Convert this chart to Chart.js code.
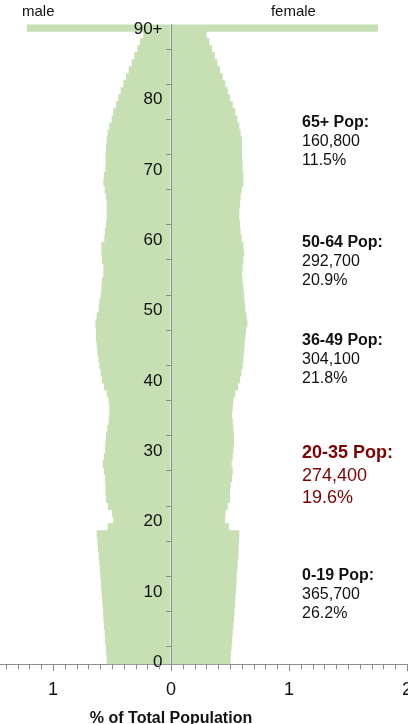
<!DOCTYPE html>
<html>
<head>
<meta charset="utf-8">
<script src="https://cdn.jsdelivr.net/npm/chart.js@4.4.1/dist/chart.umd.min.js"></script>
<style>
  html, body { margin: 0; padding: 0; background: #fff; overflow: hidden; }
  #wrap { position: relative; width: 408px; height: 724px; }
</style>
</head>
<body>
<div id="wrap"><canvas id="pyramid" width="408" height="724"></canvas></div>
<script>
// single years of age, the last one is "90+"
const ages = [
  0, 1, 2, 3, 4, 5, 6, 7, 8, 9,
  10, 11, 12, 13, 14, 15, 16, 17, 18, 19,
  20, 21, 22, 23, 24, 25, 26, 27, 28, 29,
  30, 31, 32, 33, 34, 35, 36, 37, 38, 39,
  40, 41, 42, 43, 44, 45, 46, 47, 48, 49,
  50, 51, 52, 53, 54, 55, 56, 57, 58, 59,
  60, 61, 62, 63, 64, 65, 66, 67, 68, 69,
  70, 71, 72, 73, 74, 75, 76, 77, 78, 79,
  80, 81, 82, 83, 84, 85, 86, 87, 88, 89,
  90
];

// % of total population by single year of age
const malePct = [
  0.545, 0.548, 0.553, 0.559, 0.562, 0.568, 0.573, 0.576, 0.580, 0.585,
  0.590, 0.593, 0.599, 0.602, 0.607, 0.613, 0.619, 0.624, 0.630, 0.537,
  0.489, 0.500, 0.535, 0.550, 0.556, 0.556, 0.559, 0.568, 0.579, 0.568,
  0.559, 0.556, 0.551, 0.540, 0.528, 0.523, 0.523, 0.528, 0.545, 0.568,
  0.585, 0.596, 0.607, 0.616, 0.624, 0.630, 0.636, 0.636, 0.641, 0.630,
  0.613, 0.607, 0.596, 0.590, 0.585, 0.573, 0.573, 0.585, 0.590, 0.590,
  0.565, 0.560, 0.551, 0.545, 0.545, 0.545, 0.551, 0.562, 0.573, 0.568,
  0.556, 0.554, 0.554, 0.551, 0.545, 0.537, 0.523, 0.503, 0.489, 0.466,
  0.446, 0.427, 0.404, 0.381, 0.359, 0.333, 0.311, 0.285, 0.263, 0.235,
  1.220
];

const femalePct = [
  0.506, 0.508, 0.514, 0.519, 0.523, 0.528, 0.534, 0.537, 0.542, 0.545,
  0.551, 0.554, 0.556, 0.562, 0.565, 0.571, 0.573, 0.576, 0.579, 0.490,
  0.458, 0.462, 0.480, 0.500, 0.500, 0.506, 0.517, 0.523, 0.514, 0.523,
  0.528, 0.534, 0.534, 0.528, 0.523, 0.517, 0.523, 0.528, 0.545, 0.568,
  0.585, 0.596, 0.607, 0.613, 0.619, 0.624, 0.630, 0.636, 0.647, 0.641,
  0.630, 0.624, 0.619, 0.613, 0.607, 0.602, 0.607, 0.613, 0.619, 0.613,
  0.599, 0.590, 0.585, 0.579, 0.579, 0.585, 0.590, 0.599, 0.613, 0.613,
  0.607, 0.605, 0.602, 0.602, 0.602, 0.590, 0.579, 0.562, 0.545, 0.523,
  0.500, 0.480, 0.460, 0.438, 0.415, 0.393, 0.370, 0.347, 0.325, 0.302,
  1.754
];

// age group summaries shown at the right
const groupNames = ['65+ Pop:', '50-64 Pop:', '36-49 Pop:', '20-35 Pop:', '0-19 Pop:'];
const groupPops  = ['160,800', '292,700', '304,100', '274,400', '365,700'];
const groupPcts  = ['11.5%', '20.9%', '21.8%', '19.6%', '26.2%'];

const FONT      = "'Liberation Sans', Arial, sans-serif";
const BAR_GREEN = '#c6e0b4';
const AXIS_GREY = '#8c8c8c';
const TEXT      = '#111111';
const DARK_RED  = '#800000';

// where the summaries sit (age for the first line) and which one is highlighted
const groupAnchorAge = [77.1, 60.0, 46.0, 30.0, 12.6];
const highlightGroup = 3;

const isWhole = v => Math.abs(v - Math.round(v)) < 1e-6;
// an axis placed at x=0 ignores ticks.padding, so an en space keeps labels off the ticks
const GAP = '\u2002';

const textPlugin = {
  id: 'pyramidText',
  afterDraw(chart) {
    const ctx = chart.ctx;
    const xs  = chart.scales.x;
    const ys  = chart.scales.y;

    // x axis tick marks: long at whole percents, short at tenths
    ctx.save();
    ctx.strokeStyle = AXIS_GREY;
    ctx.lineWidth = 1;
    xs.ticks.forEach(t => {
      const px  = Math.round(xs.getPixelForValue(t.value)) + 0.5;
      const len = isWhole(t.value) ? 7 : 5;
      ctx.beginPath();
      ctx.moveTo(px, xs.top);
      ctx.lineTo(px, xs.top + len);
      ctx.stroke();
    });
    ctx.restore();

    ctx.save();
    ctx.textBaseline = 'middle';

    // side labels
    ctx.fillStyle = TEXT;
    ctx.font = `15px ${FONT}`;
    ctx.textAlign = 'center';
    ctx.fillText('male',   xs.getPixelForValue(-1.125), 11.5);
    ctx.fillText('female', xs.getPixelForValue(1.037),  11.5);

    // axis title, centred under zero
    ctx.font = `bold 16px ${FONT}`;
    ctx.fillText('% of Total Population', xs.getPixelForValue(0), 718.5);

    // group summaries
    ctx.textAlign = 'left';
    const gx = xs.getPixelForValue(1.11);
    groupNames.forEach((name, i) => {
      const hi   = i === highlightGroup;
      const size = hi ? 18 : 16;
      const gap  = hi ? 22.5 : 19;
      const y0   = ys.getPixelForValue(groupAnchorAge[i]);
      ctx.fillStyle = hi ? DARK_RED : TEXT;
      ctx.font = `bold ${size}px ${FONT}`;
      ctx.fillText(name, gx, y0);
      ctx.font = `${size}px ${FONT}`;
      ctx.fillText(groupPops[i], gx, y0 + gap);
      ctx.fillText(groupPcts[i], gx, y0 + gap * 2);
    });
    ctx.restore();
  }
};

const barOpts = {
  backgroundColor: BAR_GREEN,
  borderWidth: 0,
  grouped: false,
  barPercentage: 1.12,
  categoryPercentage: 1
};

new Chart(document.getElementById('pyramid'), {
  type: 'bar',
  data: {
    datasets: [
      Object.assign({ label: 'male',   data: ages.map((a, i) => ({ x: -malePct[i], y: a + 0.5 })) }, barOpts),
      Object.assign({ label: 'female', data: ages.map((a, i) => ({ x: femalePct[i], y: a + 0.5 })) }, barOpts)
    ]
  },
  options: {
    indexAxis: 'y',
    responsive: false,
    animation: false,
    layout: { padding: { top: 24.4, left: 0, right: 0, bottom: 0 } },
    plugins: {
      legend: { display: false },
      tooltip: { enabled: false }
    },
    scales: {
      x: {
        type: 'linear',
        min: -1.449,
        max: 2.008,
        offset: false,
        ticks: {
          stepSize: 0.1,
          includeBounds: false,
          autoSkip: false,
          maxTicksLimit: 100,
          maxRotation: 0,
          padding: 15,
          color: TEXT,
          font: { size: 18, family: FONT },
          callback: v => isWhole(v) ? String(Math.abs(Math.round(v))) : ''
        },
        grid: { drawOnChartArea: false, drawTicks: false },
        border: { color: AXIS_GREY },
        afterFit: s => { s.height = 59.7; s.paddingLeft = 0; s.paddingRight = 0; }
      },
      y: {
        type: 'linear',
        min: 0,
        max: 91,
        offset: false,
        position: { x: 0 },
        ticks: {
          z: 2,
          stepSize: 5,
          includeBounds: false,
          autoSkip: false,
          labelOffset: -2,
          color: TEXT,
          font: { size: 17, family: FONT },
          callback: v => v === 90 ? '90+' + GAP : (v % 10 === 0 ? v + GAP : '')
        },
        grid: { z: 1, drawOnChartArea: false, tickLength: 5, color: AXIS_GREY },
        border: { z: 1, color: AXIS_GREY },
        afterFit: s => { s.paddingTop = 0; s.paddingBottom = 0; }
      }
    }
  },
  plugins: [textPlugin]
});
</script>
</body>
</html>
